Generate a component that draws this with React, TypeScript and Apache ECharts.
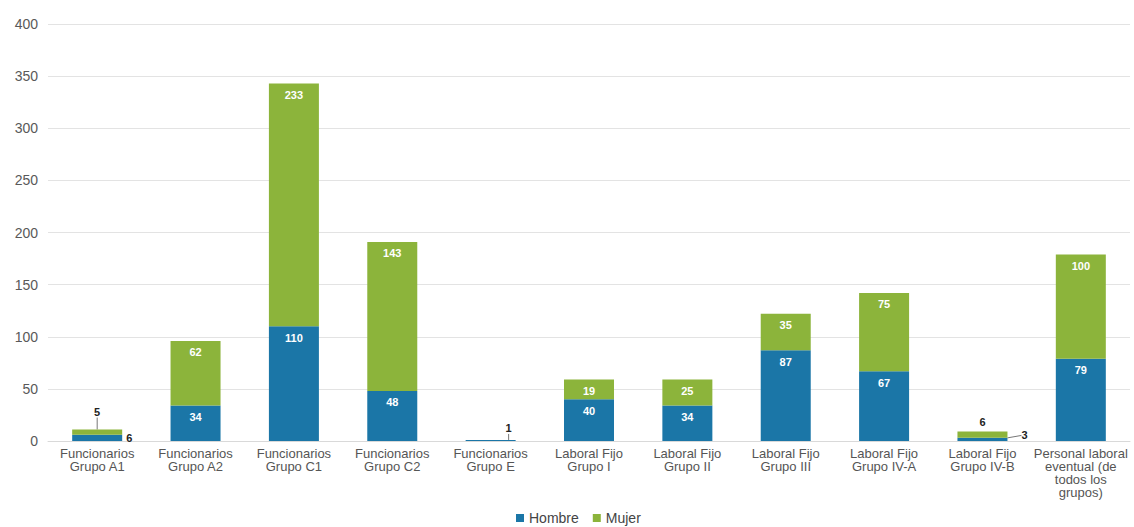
import React, { useEffect, useRef } from "react";
import * as echarts from "echarts";

const categories = [
  "Funcionarios\nGrupo A1",
  "Funcionarios\nGrupo A2",
  "Funcionarios\nGrupo C1",
  "Funcionarios\nGrupo C2",
  "Funcionarios\nGrupo E",
  "Laboral Fijo\nGrupo I",
  "Laboral Fijo\nGrupo II",
  "Laboral Fijo\nGrupo III",
  "Laboral Fijo\nGrupo IV-A",
  "Laboral Fijo\nGrupo IV-B",
  "Personal laboral\neventual (de\ntodos los\ngrupos)",
];

const hombre = [6, 34, 110, 48, 1, 40, 34, 87, 67, 3, 79];
const mujer = [5, 62, 233, 143, 0, 19, 25, 35, 75, 6, 100];

const yTicks = [0, 50, 100, 150, 200, 250, 300, 350, 400];

const BLUE = "#1b76a7";
const GREEN = "#8cb43b";
const FONT = "Liberation Sans, Arial, sans-serif";

const insideLabel = {
  show: true,
  position: "insideTop",
  distance: 6,
  color: "#ffffff",
  fontWeight: "bold",
  fontSize: 11,
  fontFamily: FONT,
};

const outsideLabel = {
  show: true,
  color: "#222222",
  fontWeight: "bold",
  fontSize: 11,
  fontFamily: FONT,
};

const leader = { show: true, lineStyle: { color: "#777", width: 1 } };

export default function App() {
  const ref = useRef<HTMLDivElement>(null);

  useEffect(() => {
    if (!ref.current) return;
    const chart = echarts.init(ref.current, null, { renderer: "svg" });

    const hombreData = hombre.map((v, i) => {
      if (i === 0) {
        return {
          value: v,
          label: { ...outsideLabel, position: "right", distance: 4, offset: [0, 2] },
        };
      }
      if (i === 9) {
        return {
          value: v,
          label: { ...outsideLabel, position: "right", distance: 2 },
          labelLine: leader,
        };
      }
      if (i === 4) {
        return {
          value: v,
          label: { ...outsideLabel, position: "top", distance: 0 },
          labelLine: leader,
        };
      }
      return { value: v };
    });

    const mujerData = mujer.map((v, i) => {
      if (i === 0) {
        return {
          value: v,
          label: { ...outsideLabel, position: "top", distance: 0 },
          labelLine: leader,
        };
      }
      if (i === 9) {
        return {
          value: v,
          label: { ...outsideLabel, position: "top", distance: 4 },
        };
      }
      if (i === 4) {
        return { value: v, label: { show: false } };
      }
      return { value: v };
    });

    chart.setOption({
      animation: false,
      backgroundColor: "#ffffff",
      textStyle: { fontFamily: FONT },
      grid: { left: 48, right: 4, top: 24, bottom: 86, containLabel: false },
      legend: {
        top: 511,
        left: 516,
        padding: 0,
        icon: "rect",
        itemWidth: 8,
        itemHeight: 8,
        itemGap: 14,
        textStyle: { fontSize: 14, color: "#444", fontFamily: FONT },
        data: ["Hombre", "Mujer"],
      },
      xAxis: {
        type: "category",
        data: categories,
        axisTick: { show: false },
        axisLine: { show: true, lineStyle: { color: "#d9d9d9" } },
        axisLabel: {
          interval: 0,
          color: "#555",
          fontSize: 13,
          lineHeight: 13,
          margin: 6,
          fontFamily: FONT,
        },
      },
      yAxis: {
        type: "value",
        min: yTicks[0],
        max: yTicks[yTicks.length - 1],
        interval: 50,
        axisLine: { show: false },
        axisTick: { show: false },
        axisLabel: { color: "#595959", fontSize: 14, margin: 10, fontFamily: FONT },
        splitLine: { lineStyle: { color: "#e3e3e3" } },
      },
      series: [
        {
          name: "Hombre",
          type: "bar",
          stack: "total",
          barWidth: 50,
          itemStyle: { color: BLUE },
          label: insideLabel,
          labelLayout: (p: any) =>
            p.dataIndex === 4
              ? { dx: 18, dy: -6 }
              : p.dataIndex === 9
              ? { dx: 12, dy: -4 }
              : {},
          data: hombreData,
        },
        {
          name: "Mujer",
          type: "bar",
          stack: "total",
          barWidth: 50,
          itemStyle: { color: GREEN },
          label: insideLabel,
          labelLayout: (p: any) => (p.dataIndex === 0 ? { dy: -12 } : {}),
          data: mujerData,
        },
      ],
    });

    return () => chart.dispose();
  }, []);

  return (
    <div
      ref={ref}
      style={{ position: "fixed", left: 0, top: 0, width: 1134, height: 527 }}
    />
  );
}
